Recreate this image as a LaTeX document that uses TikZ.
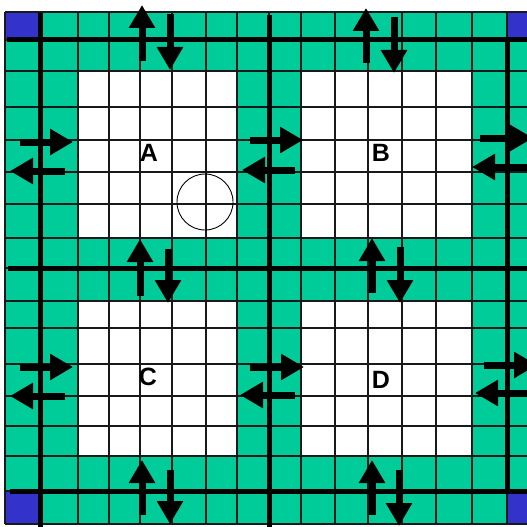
\documentclass[tikz,border=0pt]{standalone}
\usepackage{fontspec}
\setmainfont{Liberation Sans}
\usetikzlibrary{arrows.meta}

\tikzset{
  gridline/.style={line width=1.3pt, black!90},
  busline/.style={line width=5pt, black},
  flow/.style={line width=7pt, -{Triangle[width=25pt,length=23pt]}},
  blocklabel/.style={font=\bfseries\fontsize{25}{29}\selectfont, inner sep=0pt},
}

\begin{document}
\begin{tikzpicture}[x=1pt, y=-1pt]
  % colors close to the figure
  \definecolor{cellgreen}{RGB}{0,204,153}
  \definecolor{cornerblue}{RGB}{51,51,204}

  % frame in pixel units, y pointing down
  \useasboundingbox (0,0) rectangle (527,527);
  \clip (0,0) rectangle (527,527);

  % green floor and the four white blocks
  \fill[cellgreen] (5,12) rectangle (540,524);
  \fill[white] (78,71)   rectangle (237,238);   % A
  \fill[white] (301,71)  rectangle (472,238);   % B
  \fill[white] (78,301)  rectangle (237,456);   % C
  \fill[white] (301,301) rectangle (472,456);   % D

  % blue corner cells
  \fill[cornerblue] (5,12)    rectangle (40,40);
  \fill[cornerblue] (507,12)  rectangle (540,40);
  \fill[cornerblue] (5,491)   rectangle (40,524);
  \fill[cornerblue] (507,491) rectangle (540,524);

  % cell grid
  \foreach \x in {5,40,78,109,140,172,206,237,269,301,335,368,402,436,472,507}
    \draw[gridline] (\x,12) -- (\x,524);
  \foreach \y in {12,40,71,107,140,172,204,238,268,301,328,364,396,426,456,491,524}
    \draw[gridline] (5,\y) -- (540,\y);

  % thick lines
  \draw[busline] (7,40)   -- (540,40);
  \draw[busline] (8,268)  -- (540,268);
  \draw[busline] (10,491) -- (540,491);
  \draw[busline] (40,13)  -- (40,527);
  \draw[busline] (269,15) -- (269,527);
  \draw[busline] (507,38) -- (507,493);

  % vertical arrow pairs
  \draw[flow] (142,61)  -- (142,5);
  \draw[flow] (170,14)  -- (170,70);
  \draw[flow] (366,63)  -- (366,8);
  \draw[flow] (394,17)  -- (394,73);
  \draw[flow] (140,296) -- (140,239);
  \draw[flow] (168,249) -- (168,303);
  \draw[flow] (372,293) -- (372,238);
  \draw[flow] (400,247) -- (400,303);
  \draw[flow] (142,515) -- (142,460);
  \draw[flow] (170,470) -- (170,524);
  \draw[flow] (372,515) -- (372,460);
  \draw[flow] (399,470) -- (399,526);

  % horizontal arrow pairs
  \draw[flow] (20,142)  -- (73,142);
  \draw[flow] (65,171)  -- (10,171);
  \draw[flow] (20,367)  -- (73,367);
  \draw[flow] (65,396)  -- (10,396);
  \draw[flow] (250,140) -- (303,140);
  \draw[flow] (295,170) -- (242,170);
  \draw[flow] (250,367) -- (304,367);
  \draw[flow] (295,395) -- (240,395);
  \draw[flow] (480,138) -- (533,138);
  \draw[flow] (527,167) -- (472,167);
  \draw[flow] (484,365) -- (537,365);
  \draw[flow] (530,393) -- (475,393);

  % probe circle in block A
  \node[draw, circle, line width=0.9pt, minimum size=56pt, inner sep=0pt] (probe) at (205,202) {};

  % block labels
  \node[blocklabel] (A) at (149,153) {A};
  \node[blocklabel] (B) at (381,153) {B};
  \node[blocklabel] (C) at (148,377) {C};
  \node[blocklabel] (D) at (381,380) {D};
\end{tikzpicture}
\end{document}
